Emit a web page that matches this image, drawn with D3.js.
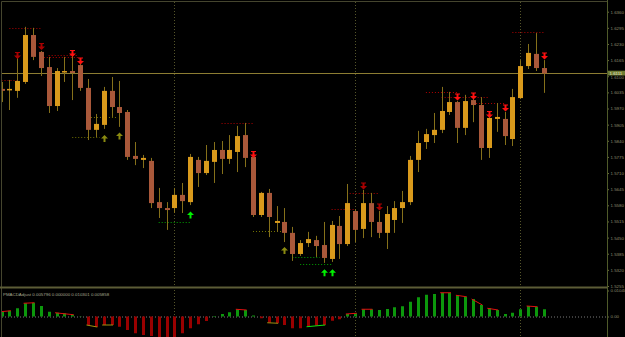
<!DOCTYPE html>
<html>
<head>
<meta charset="utf-8">
<script src="https://cdn.jsdelivr.net/npm/d3@7"></script>
<style>
  html, body { margin: 0; padding: 0; background: #000; }
  svg { display: block; }
</style>
</head>
<body>
<svg class="chart" width="625" height="337"></svg>
<script>
// Candles, one per bar (index 0 = leftmost)
const opens = [1.6049,1.6045,1.6041,1.6077,1.6266,1.6198,1.6137,1.5980,1.6117,1.6121,
  1.6145,1.6053,1.5884,1.5904,1.6041,1.5976,1.5956,1.5779,1.5763,1.5759,
  1.5593,1.5569,1.5569,1.5622,1.5593,1.5763,1.5710,1.5755,1.5803,1.5767,
  1.5795,1.5863,1.5775,1.5541,1.5630,1.5509,1.5513,1.5469,1.5384,1.5428,
  1.5440,1.5420,1.5364,1.5497,1.5424,1.5557,1.5485,1.5589,1.5513,1.5469,
  1.5521,1.5569,1.5593,1.5763,1.5835,1.5863,1.5884,1.5956,1.5996,1.5892,
  1.6004,1.5984,1.5811,1.5928,1.5928,1.5847,1.6012,1.6141,1.6190,1.6133];
const highs = [1.6077,1.6085,1.6174,1.6299,1.6295,1.6202,1.6178,1.6133,1.6178,1.6194,
  1.6149,1.6089,1.5948,1.6057,1.6097,1.6081,1.5964,1.5835,1.5783,1.5771,
  1.5650,1.5593,1.5650,1.5670,1.5787,1.5775,1.5823,1.5835,1.5839,1.5863,
  1.5900,1.5912,1.5783,1.5634,1.5646,1.5577,1.5569,1.5493,1.5440,1.5473,
  1.5457,1.5513,1.5517,1.5537,1.5666,1.5565,1.5642,1.5630,1.5557,1.5577,
  1.5597,1.5638,1.5779,1.5880,1.5888,1.5952,1.6057,1.6037,1.6000,1.6025,
  1.6008,1.6016,1.5936,1.5992,1.5956,1.6049,1.6165,1.6230,1.6274,1.6165];
const lows = [1.5996,1.5964,1.6013,1.6069,1.6165,1.6101,1.5952,1.5960,1.6077,1.6004,
  1.6041,1.5843,1.5855,1.5888,1.5936,1.5896,1.5763,1.5742,1.5730,1.5569,
  1.5529,1.5481,1.5549,1.5549,1.5581,1.5654,1.5702,1.5670,1.5706,1.5747,
  1.5714,1.5734,1.5533,1.5533,1.5452,1.5473,1.5432,1.5356,1.5376,1.5412,
  1.5372,1.5348,1.5352,1.5364,1.5416,1.5432,1.5448,1.5452,1.5448,1.5404,
  1.5469,1.5509,1.5581,1.5714,1.5807,1.5831,1.5871,1.5944,1.5831,1.5863,
  1.5915,1.5763,1.5771,1.5876,1.5823,1.5819,1.6008,1.6129,1.6121,1.6033];
const closes = [1.6041,1.6049,1.6081,1.6266,1.6178,1.6133,1.5980,1.6121,1.6121,1.6113,
  1.6053,1.5884,1.5908,1.6041,1.5976,1.5952,1.5775,1.5767,1.5771,1.5589,
  1.5569,1.5561,1.5622,1.5597,1.5775,1.5710,1.5759,1.5803,1.5767,1.5803,
  1.5859,1.5771,1.5541,1.5630,1.5533,1.5517,1.5469,1.5384,1.5428,1.5444,
  1.5416,1.5368,1.5501,1.5424,1.5589,1.5481,1.5589,1.5513,1.5469,1.5545,
  1.5569,1.5593,1.5763,1.5831,1.5867,1.5884,1.5960,1.5996,1.5892,1.6000,
  1.5984,1.5811,1.5932,1.5936,1.5859,1.6016,1.6141,1.6194,1.6133,1.6111];

const currentPrice = 1.6111;
const priceTicks = [1.6360,1.6295,1.6230,1.6165,1.6100,1.6035,1.5970,1.5905,1.5840,
  1.5775,1.5710,1.5645,1.5580,1.5515,1.5450,1.5385,1.5320,1.5255];

// Signal arrows: bar, price, kind
const arrowBars   = [2,5,9,10,32,46,48,58,60,62,64,69, 13,15,24,36,41,42];
const arrowPrices = [1.6184,1.6220,1.6192,1.6161,1.5785,1.5658,1.5573,1.6016,1.6020,1.5946,1.5972,1.6182,
  1.5849,1.5859,1.5541,1.5398,1.5308,1.5308];
const arrowKinds  = ["dnDark","dnDark","dn","dn","dn","dnDark","dnDark","dn","dn","dn","dn","dn",
  "upOlive","upOlive","up","upOlive","up","up"];

// Dotted levels: from bar, to bar, price, kind
const levelFrom  = [0,1,6,5,11,9,20,28,32,37,38,42,44.3,54,56,60,65];
const levelTo    = [2,5,9.7,9.7,14.8,12.5,24,32,35.7,40.5,42,45,48,58,62,64,69];
const levelPrice = [1.6085,1.6295,1.6186,1.6177,1.5936,1.5855,1.5513,1.5912,1.5477,1.5372,
  1.5344,1.5565,1.5630,1.6037,1.6016,1.5992,1.6279];
const levelKinds = ["r","r","r","r","o","o","g","r","o","g","g","r","r","r","r","r","r"];

const separatorBars = [22, 45, 66];

// PMACD histogram
const macdHist = [0.0019,0.0023,0.0033,0.0053,0.0055,0.0042,0.0019,0.0015,0.0013,0.0007,
  0.0001,-0.0034,-0.0042,-0.0034,-0.0034,-0.0041,-0.0054,-0.0067,-0.0074,-0.0078,
  -0.0086,-0.0090,-0.0090,-0.0067,-0.0047,-0.0031,-0.0018,0.0002,0.0010,0.0017,
  0.0029,0.0026,0.0004,-0.0007,-0.0025,-0.0027,-0.0034,-0.0047,-0.0047,-0.0041,
  -0.0037,-0.0034,-0.0017,-0.0011,0.0010,0.0013,0.0029,0.0029,0.0026,0.0030,
  0.0037,0.0041,0.0059,0.0077,0.0087,0.0090,0.0095,0.0095,0.0085,0.0079,
  0.0070,0.0046,0.0033,0.0026,0.0010,0.0015,0.0029,0.0042,0.0039,0.0029];
const sigFrom  = [0,3,7,30,44,46,56,58,60,62,67, 11,13,34, 39];
const sigTo    = [1,4,9,31,45,47,57,59,61,63,68, 12,14,35, 41];
const sigKinds = ["r","r","r","r","r","r","r","r","r","r","r", "o","o","o", "g"];
const macdLabel = "PMACDAdjust 0.005796 0.000000 0.010301 0.005858";

const svg = d3.select(".chart");
const W = 625, H = 337;
const font = "'Liberation Sans', Arial, sans-serif";

svg.append("rect").attr("width", W).attr("height", H).attr("fill", "#000");

const x = d3.scaleLinear().domain([0, 69]).range([1.5, 543.8]);
const y = d3.scaleLinear().domain([1.5255, 1.6360]).range([286, 11.7]);
const ym = d3.scaleLinear().domain([0, 0.0104]).range([316.5, 290.5]);

const defs = svg.append("defs");
defs.append("clipPath").attr("id", "mainClip")
  .append("rect").attr("x", 2).attr("y", 2).attr("width", 605).attr("height", 284.5);
defs.append("clipPath").attr("id", "macdClip")
  .append("rect").attr("x", 2).attr("y", 289).attr("width", 605).attr("height", 48);

// period separators (both windows)
svg.selectAll(".sep")
  .data(separatorBars)
  .enter().append("line")
  .attr("x1", d => Math.round(x(d)) + 0.5).attr("x2", d => Math.round(x(d)) + 0.5)
  .attr("y1", 2).attr("y2", H)
  .attr("stroke", "#55552a").attr("stroke-dasharray", "1,2");

const main = svg.append("g").attr("clip-path", "url(#mainClip)");

// dotted levels
const levelColor = { r: "#b00000", g: "#00a000", o: "#707000" };
main.selectAll(".level")
  .data(levelPrice)
  .enter().append("line")
  .attr("x1", (d, i) => x(levelFrom[i]))
  .attr("x2", (d, i) => x(levelTo[i]))
  .attr("y1", d => Math.round(y(d)) + 0.5)
  .attr("y2", d => Math.round(y(d)) + 0.5)
  .attr("stroke", (d, i) => levelColor[levelKinds[i]])
  .attr("stroke-dasharray", "1,2");

// current price line
main.append("line")
  .attr("x1", 2).attr("x2", 607)
  .attr("y1", y(currentPrice)).attr("y2", y(currentPrice))
  .attr("stroke", "#8c7d32").attr("stroke-width", 1.2);

// wicks
const bars = d3.range(opens.length);
main.selectAll(".wick")
  .data(bars)
  .enter().append("line")
  .attr("x1", i => Math.round(x(i)) + 0.5).attr("x2", i => Math.round(x(i)) + 0.5)
  .attr("y1", i => y(highs[i])).attr("y2", i => y(lows[i]))
  .attr("stroke", "#85701a");

// bodies
main.selectAll(".body")
  .data(bars)
  .enter().append("rect")
  .attr("x", i => Math.round(x(i)) - 2)
  .attr("y", i => y(Math.max(opens[i], closes[i])))
  .attr("width", 5)
  .attr("height", i => Math.max(1.5, Math.abs(y(opens[i]) - y(closes[i]))))
  .attr("fill", i => closes[i] >= opens[i] ? "#d99a1c" : "#a9583a");

// arrows
const arrowColor = { dn: "#ff1010", dnDark: "#a80000", up: "#00f000", upOlive: "#8a8a10" };
const downPath = "M-1,-3.5 L1,-3.5 L1,0 L3.5,0 L0,3.5 L-3.5,0 L-1,0 Z M-2.5,-3.5 L2.5,-3.5 L2.5,-2.5 L-2.5,-2.5 Z";
const upPath = "M-1,3.5 L1,3.5 L1,0 L3.5,0 L0,-3.5 L-3.5,0 L-1,0 Z";
main.selectAll(".arrow")
  .data(arrowBars)
  .enter().append("path")
  .attr("transform", (d, i) => `translate(${Math.round(x(d)) + 0.5},${y(arrowPrices[i])})`)
  .attr("d", (d, i) => arrowKinds[i].startsWith("dn") ? downPath : upPath)
  .attr("fill", (d, i) => arrowColor[arrowKinds[i]]);

// window borders
svg.append("line").attr("x1", 1.5).attr("x2", 607).attr("y1", 1.5).attr("y2", 1.5)
  .attr("stroke", "#45452e");
svg.append("line").attr("x1", 1.5).attr("x2", 1.5).attr("y1", 1.5).attr("y2", H)
  .attr("stroke", "#45452e");
svg.append("line").attr("x1", 0).attr("x2", 607).attr("y1", 287.5).attr("y2", 287.5)
  .attr("stroke", "#5c5c36").attr("stroke-width", 2);

// PMACD window
const macd = svg.append("g").attr("clip-path", "url(#macdClip)");
macd.append("line")
  .attr("x1", 2).attr("x2", 607)
  .attr("y1", ym(0) + 0.5).attr("y2", ym(0) + 0.5)
  .attr("stroke", "#7a7a7a").attr("stroke-dasharray", "1,2");

macd.selectAll(".hist")
  .data(macdHist)
  .enter().append("rect")
  .attr("x", (d, i) => Math.round(x(i)) - 1)
  .attr("y", d => Math.min(ym(d), ym(0)))
  .attr("width", 3)
  .attr("height", d => Math.abs(ym(d) - ym(0)))
  .attr("fill", d => d >= 0 ? "#0c980c" : "#9a0000");

const sigColor = { r: "#e01010", o: "#a09010", g: "#10e010" };
macd.selectAll(".sig")
  .data(sigFrom)
  .enter().append("line")
  .attr("x1", d => x(d) - 1.5)
  .attr("x2", (d, i) => x(sigTo[i]) + 1.5)
  .attr("y1", d => ym(macdHist[d]))
  .attr("y2", (d, i) => ym(macdHist[sigTo[i]]))
  .attr("stroke", (d, i) => sigColor[sigKinds[i]])
  .attr("stroke-width", 1);

svg.append("text")
  .attr("x", 3).attr("y", 295.5)
  .attr("font-family", font).attr("font-size", 4.4)
  .attr("fill", "#a8a890")
  .text(macdLabel);

// price axis
const axisG = svg.append("g").attr("transform", "translate(607,0)");
axisG.call(d3.axisRight(y).tickValues(priceTicks).tickFormat(d3.format(".4f")).tickSize(2).tickPadding(1.5));
axisG.select(".domain").remove();
axisG.selectAll(".tick line").attr("stroke", "#6b6b3c");
axisG.selectAll(".tick text")
  .attr("fill", "#8e8e6e").attr("font-family", font).attr("font-size", 4.4);
// the 1.6100 label sits just under the price tag, nudge it down a little
axisG.selectAll(".tick text").filter(d => Math.abs(d - 1.61) < 1e-6).attr("dy", "0.55em");

const macdAxis = svg.append("g").attr("transform", "translate(607,0)");
macdAxis.call(d3.axisRight(ym).tickValues([0.0104, 0])
  .tickFormat(d => d === 0 ? "0.00" : d.toFixed(5)).tickSize(2).tickPadding(1.5));
macdAxis.select(".domain").remove();
macdAxis.selectAll(".tick line").attr("stroke", "#6b6b3c");
macdAxis.selectAll(".tick text")
  .attr("fill", "#8e8e6e").attr("font-family", font).attr("font-size", 4.4);

svg.append("line").attr("x1", 607.5).attr("x2", 607.5).attr("y1", 0).attr("y2", H)
  .attr("stroke", "#4f5a2a");

// current price tag
const tagY = y(currentPrice);
svg.append("rect")
  .attr("x", 608).attr("y", tagY - 2.8).attr("width", 17).attr("height", 4.8)
  .attr("fill", "#6e7c34");
svg.append("text")
  .attr("x", 609.5).attr("y", tagY + 1.4)
  .attr("font-family", font).attr("font-size", 4.4)
  .attr("fill", "#e8e8c8")
  .text(d3.format(".4f")(currentPrice));
</script>
</body>
</html>
